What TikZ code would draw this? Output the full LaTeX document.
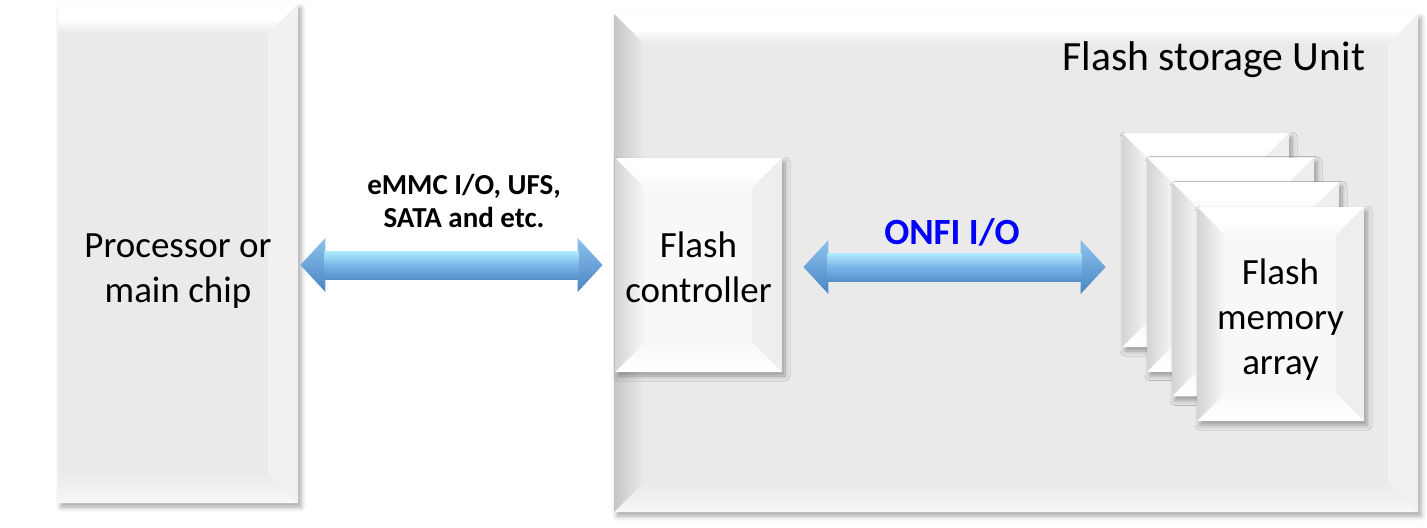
\documentclass[tikz,border=0pt]{standalone}
\usepackage{fontspec}
\setmainfont{Carlito}
\usetikzlibrary{fit,calc,shadows.blur}
\definecolor{panelface}{HTML}{EAEAEA}
\definecolor{panelleft}{HTML}{C6C6C6}
\definecolor{panelright}{HTML}{F1F1F1}
\definecolor{panelbottom}{HTML}{F7F7F7}
\definecolor{chipface}{HTML}{F8F8F8}
\definecolor{chipleft}{HTML}{D4D4D4}
\definecolor{chipright}{HTML}{EEEEEE}
\definecolor{chipbottom}{HTML}{FFFFFF}
\definecolor{arrowhead}{HTML}{8CC3EE}
\definecolor{arrowdeep}{HTML}{4A84C2}
\definecolor{arrowlight}{HTML}{B0EAFC}
\definecolor{arrowmid}{HTML}{79B6E8}
\definecolor{arrowdark}{HTML}{5990CD}
\definecolor{onfiblue}{HTML}{0000FF}

% bevel widths and colours, set per node
\def\bvW{15pt}\def\bvL{15pt}
\colorlet{bvface}{panelface}\colorlet{bvleft}{panelleft}
\colorlet{bvright}{panelright}\colorlet{bvbottom}{panelbottom}

\newcommand\bevelfaces{%
  \path (path picture bounding box.north west) coordinate (bnw)
        (path picture bounding box.south east) coordinate (bse);
  \path (bnw |- bse) coordinate (bsw) (bse |- bnw) coordinate (bne);
  \shade[top color=white, bottom color=bvface, middle color=white]
    (bnw) -- (bne) -- ([shift={(-\bvW,-\bvW)}]bne) -- ([shift={(\bvL,-\bvW)}]bnw) -- cycle;
  \fill[bvright] (bne) -- (bse) -- ([shift={(-\bvW,\bvW)}]bse) -- ([shift={(-\bvW,-\bvW)}]bne) -- cycle;
  \shade[top color=bvface, bottom color=bvbottom]
    (bsw) -- (bse) -- ([shift={(-\bvW,\bvW)}]bse) -- ([shift={(\bvL,\bvW)}]bsw) -- cycle;
  \ifdim\bvL>0pt
    \shade[left color=bvleft, right color=bvface]
      (bnw) -- (bsw) -- ([shift={(\bvL,\bvW)}]bsw) -- ([shift={(\bvL,-\bvW)}]bnw) -- cycle;
  \fi
}

% thick double arrow between two named points
\newcommand\fatarrow[2]{%
  \shade[top color=arrowhead, bottom color=arrowdeep]
    (#1) -- ($(#1)+(25,-27)$) -- ($(#1)+(25,27)$) -- cycle
    (#2) -- ($(#2)+(-25,-27)$) -- ($(#2)+(-25,27)$) -- cycle;
  \shade[top color=arrowlight, bottom color=arrowdark, middle color=arrowmid]
    ($(#1)+(24,-14)$) rectangle ($(#2)+(-24,14)$);
}

\tikzset{
  bevel width/.code={\def\bvW{#1}\def\bvL{#1}},
  no left bevel/.code={\def\bvL{0pt}},
  bevel colours/.code n args={4}{\colorlet{bvface}{#1}\colorlet{bvleft}{#2}%
    \colorlet{bvright}{#3}\colorlet{bvbottom}{#4}},
  bevelled/.style={rectangle, inner sep=0pt, path picture={\bevelfaces},
    blur shadow={shadow xshift=1.5pt, shadow yshift=-2pt,
      shadow blur radius=2.5pt, shadow opacity=35}},
  panel/.style={bevelled, fill=panelface, bevel width=15pt,
    bevel colours={panelface}{panelleft}{panelright}{panelbottom}},
  chip/.style={bevelled, fill=chipface, bevel width=15pt,
    bevel colours={chipface}{chipleft}{chipright}{chipbottom}},
  boxtext/.style={align=center, inner sep=0pt,
    font=\fontsize{18.5}{22.5}\selectfont},
  linklabel/.style={align=center, inner sep=0pt,
    font=\bfseries\fontsize{14.5}{16.5}\selectfont}
}

\begin{document}
\begin{tikzpicture}[x=0.5pt, y=-0.5pt]
  \useasboundingbox (0,0) rectangle (1427,527);

  % storage unit and its controller
  \node[panel, fit={(614,14) (1418,512)}] (unit) {};
  \node[boxtext, anchor=base east, font=\fontsize{20.8}{24}\selectfont]
    (unittitle) at ([xshift=-26.5pt, yshift=-28.5pt]unit.north east) {Flash storage Unit};
  \node[chip, fit={(615,158) (782,372)}] (ctrl) {};
  \node[boxtext] (ctrltext) at ([yshift=-1pt]ctrl.center) {Flash\\controller};

  % host side
  \node[panel, no left bevel, fit={(58,4) (298,503)}] (proc) {};
  \node[boxtext] (proctext) at ([yshift=-9pt]proc.center) {Processor or\\main chip};

  % stacked flash dies
  \foreach \i in {1,...,4} {
    \node[chip, bevel width=14pt, minimum width=83.5pt, minimum height=107pt]
      (mem\i) at ({1205.5+25*(\i-1)},{240+24.7*(\i-1)}) {};
  }
  \node[boxtext] (memtext) at ([yshift=-3pt]mem4.center) {Flash\\memory\\array};

  % links
  \coordinate (hostL) at ([xshift=1pt]proc.east |- ctrl.west);
  \coordinate (hostR) at ([xshift=-6pt]ctrl.west);
  \coordinate (onfiL) at ([xshift=10.5pt, yshift=-1pt]ctrl.east);
  \coordinate (onfiR) at ([xshift=-8pt]onfiL -| mem1.west);
  \fatarrow{hostL}{hostR}
  \fatarrow{onfiL}{onfiR}
  \node[linklabel] (hostlabel) at (464,201) {eMMC I/O, UFS,\\SATA and etc.};
  \node[linklabel, anchor=base, text=onfiblue, font=\bfseries\fontsize{18.5}{22}\selectfont]
    (onfilabel) at (952,244) {ONFI I/O};
\end{tikzpicture}
\end{document}
